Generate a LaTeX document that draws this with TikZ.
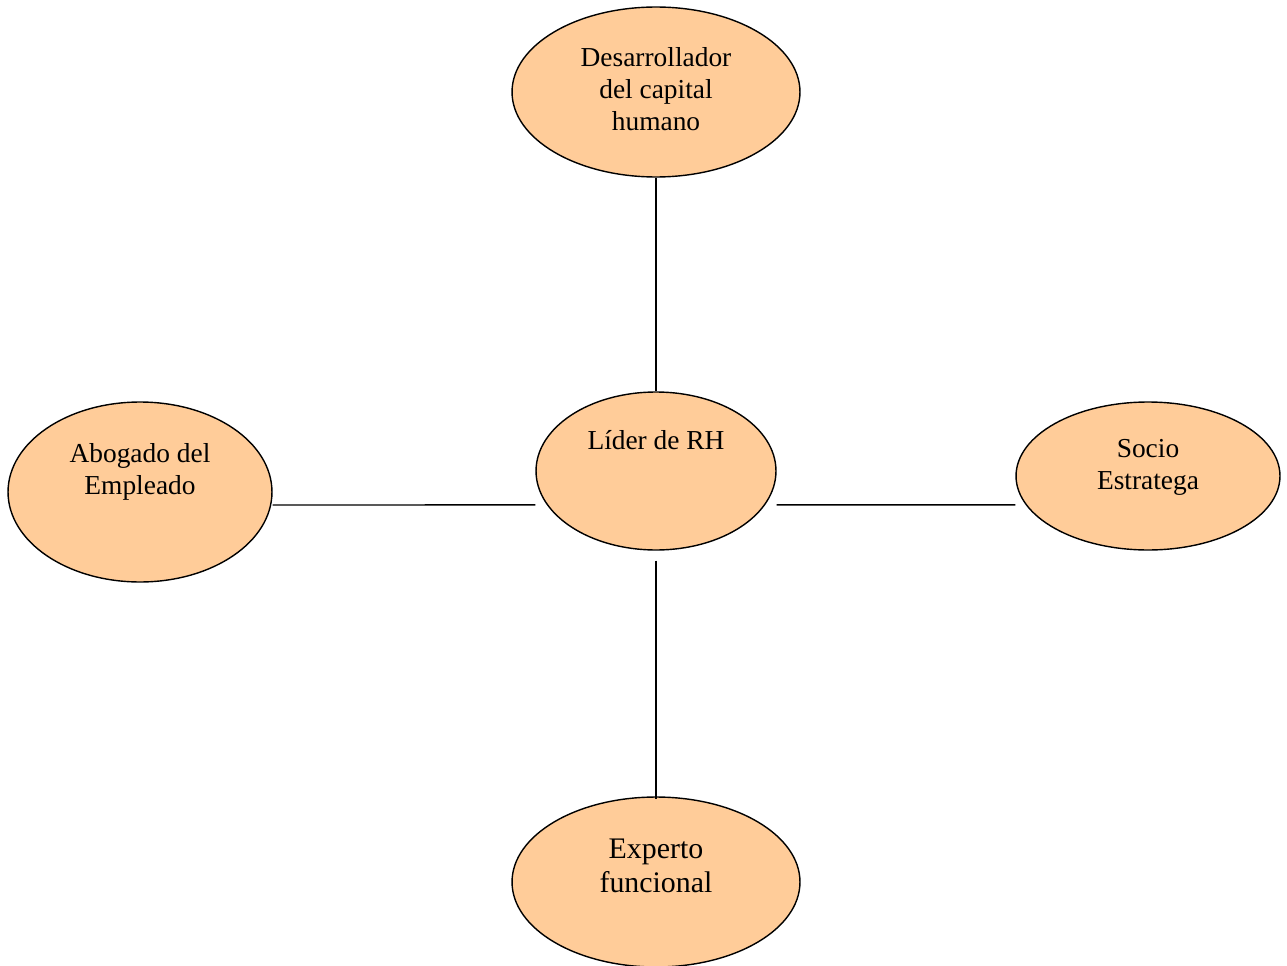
\documentclass[tikz,border=0pt]{standalone}
\usepackage{fontspec}
\setmainfont{Liberation Serif}
\usetikzlibrary{shapes.geometric}
\definecolor{rolfill}{HTML}{FFCC99}

\begin{document}
\begin{tikzpicture}[x=0.02cm,y=-0.02cm]

\tikzstyle{ROL} = [ellipse, draw=black, line width=0.8pt, fill=rolfill, inner sep=0pt]
\tikzstyle{TXT} = [align=center, font=\fontsize{15.6}{18.1}\selectfont]
\tikzstyle{BIG} = [align=center, font=\fontsize{17}{19.3}\selectfont]
\tikzstyle{LINK} = [line width=0.8pt]

\useasboundingbox (0,0) rectangle (1287,966);

\node (desarrollador) [ROL, minimum width=5.76cm, minimum height=3.4cm,
  label={[TXT, yshift=1.7pt]center:Desarrollador\\del capital\\humano}] at (656,92) {};
\node (lider) [ROL, minimum width=4.8cm, minimum height=3.16cm,
  label={[TXT, yshift=17.6pt]center:Líder de RH}] at (656,471) {};
\node (abogado) [ROL, minimum width=5.28cm, minimum height=3.6cm,
  label={[TXT, yshift=11.3pt]center:Abogado del\\Empleado}] at (140,492) {};
\node (socio) [ROL, minimum width=5.28cm, minimum height=2.96cm,
  label={[TXT, yshift=5.1pt]center:Socio\\Estratega}] at (1148,476) {};
\node (experto) [ROL, minimum width=5.76cm, minimum height=3.4cm,
  label={[BIG, yshift=9pt]center:Experto\\funcional}] at (656,882) {};

\draw [LINK] (desarrollador.south) -- (lider.north);
\draw [LINK] ([yshift=-5.7pt]lider.south) -- ([yshift=-1.7pt]experto.north);
\draw [LINK] ([yshift=-7.4pt]abogado.east) -- ([yshift=-19.3pt]lider.west);
\draw [LINK] ([yshift=-19.3pt]lider.east) -- ([yshift=-16.4pt]socio.west);

\end{tikzpicture}
\end{document}
